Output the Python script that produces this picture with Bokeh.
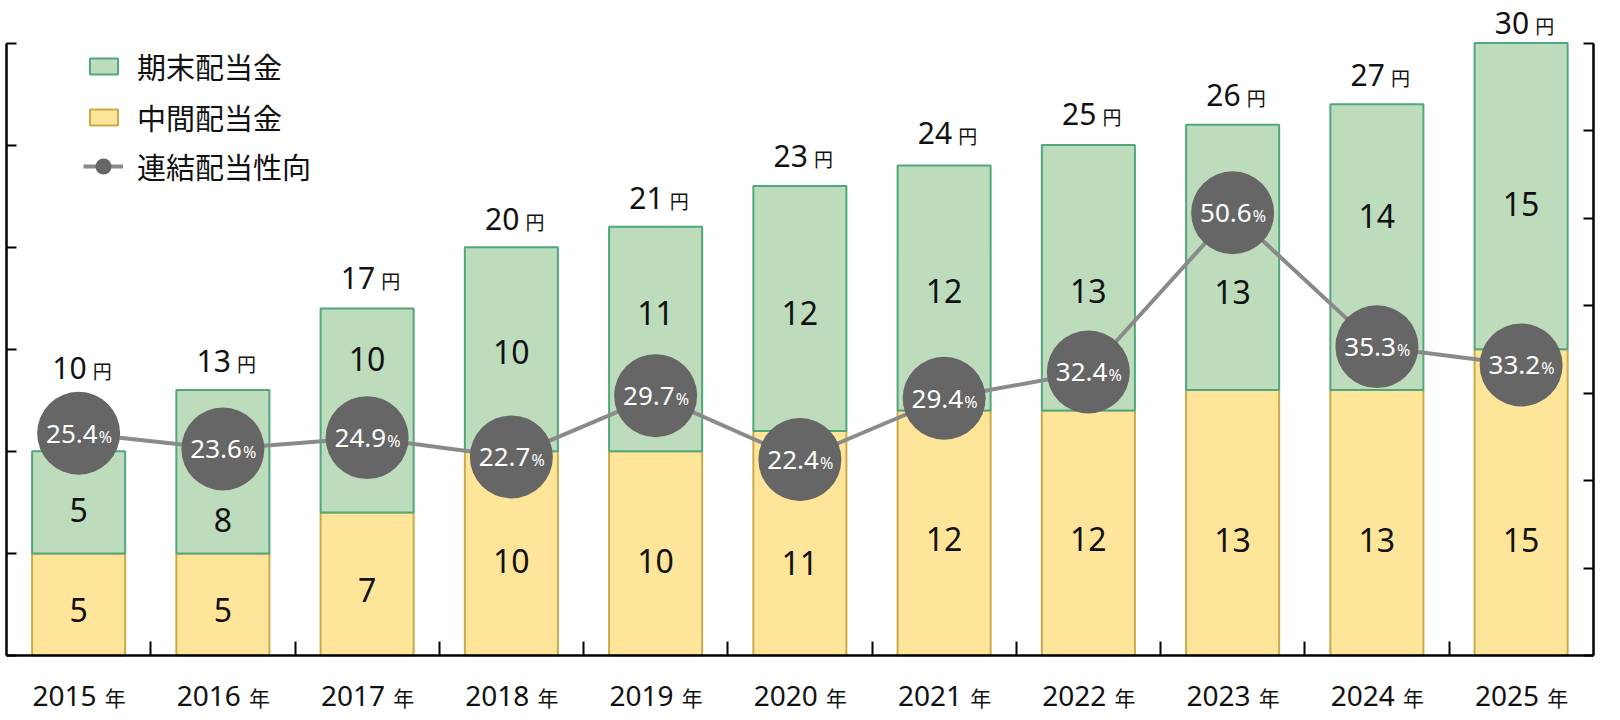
from bokeh.plotting import figure
from bokeh.models import (Range1d, LinearAxis, FixedTicker, ColumnDataSource,
                          LabelSet, Legend, LegendItem)
from bokeh.core.properties import value
from bokeh.embed import file_html
from bokeh.resources import INLINE

# ---------------- data ----------------
years = ["2015", "2016", "2017", "2018", "2019", "2020", "2021", "2022", "2023", "2024", "2025"]
interim = [5, 5, 7, 10, 10, 11, 12, 12, 13, 13, 15]          # 中間配当金 (円)
year_end = [5, 8, 10, 10, 11, 12, 12, 13, 13, 14, 15]        # 期末配当金 (円)
payout = [25.4, 23.6, 24.9, 22.7, 29.7, 22.4, 29.4, 32.4, 50.6, 35.3, 33.2]  # 連結配当性向 (%)
legend_labels = ["期末配当金", "中間配当金", "連結配当性向"]
yen_unit = "円"
year_unit = "年"
pct_unit = "%"
yen_max = 30
pct_max = 70

# ---------------- layout tweaks (pixels; positive = downwards) ----------------
green_shift = [8, 49, -51, 3, -25, 5, 4, 14, 35, -31, 8]
yellow_shift = [6, 6, 6, 8, 8, 20, 7, 7, 18, 18, 38]
total_lift = [83, 29, 30, 28, 28, 30, 32, 31, 29, 29, 20]

GREEN, GREEN_EDGE = "#bddcbc", "#52a67e"
YELLOW, YELLOW_EDGE = "#ffe599", "#c9ab4c"
DOT, LINE = "#666666", "#8a8a8a"
NUM_FONT = "Noto Sans"
JP_FONT = "Noto Sans CJK JP"

n = len(years)
xs = list(range(n))
totals = [a + b for a, b in zip(interim, year_end)]
k = pct_max / yen_max   # % per yen on the two y scales

BAR_FS, TOT_FS, YEAR_FS, PCT_FS = 32, 30, 28, 26
cap = 0.357  # half cap-height ratio, for centring digits on an alphabetic baseline

src = ColumnDataSource(dict(
    x=xs,
    interim=interim,
    total=totals,
    payout=payout,
    payout_on_yen=[v / k for v in payout],
    zero=[0] * n,
    interim_mid=[v / 2 for v in interim],
    end_mid=[a + b / 2 for a, b in zip(interim, year_end)],
    interim_txt=[str(v) for v in interim],
    end_txt=[str(v) for v in year_end],
    total_txt=[str(v) for v in totals],
    payout_txt=[f"{v:.1f}" for v in payout],
    year_txt=years,
    yen=[yen_unit] * n,
    nen=[year_unit] * n,
    pct=[pct_unit] * n,
    g_off=[-(s + cap * BAR_FS) for s in green_shift],
    y_off=[-(s + cap * BAR_FS) for s in yellow_shift],
    t_off=[l - cap * TOT_FS for l in total_lift],
))

# frame covers the whole drawing; axes are pinned inside it
FRAME_W, FRAME_H = 1608, 716
px_cat = 144.25          # pixels per category
px_yen = 20.418          # pixels per yen
x0 = -0.5 - 6.0 / px_cat
x1 = x0 + FRAME_W / px_cat
y1 = yen_max + 42.5 / px_yen
y0 = y1 - FRAME_H / px_yen

p = figure(x_range=Range1d(x0, x1), y_range=Range1d(y0, y1),
           frame_width=FRAME_W, frame_height=FRAME_H,
           min_border_left=0, min_border_right=0, min_border_top=0, min_border_bottom=0,
           output_backend="svg", toolbar_location=None,
           background_fill_color="white", border_fill_color="white")
p.outline_line_color = None
p.xgrid.visible = False
p.ygrid.visible = False
p.extra_y_ranges = {"ratio": Range1d(y0 * k, y1 * k)}


def style_axis(ax, ticks, tick_len, loc, bounds):
    ax.ticker = FixedTicker(ticks=ticks, minor_ticks=[])
    ax.fixed_location = loc
    ax.bounds = bounds
    ax.major_tick_in = tick_len
    ax.major_tick_out = 0
    ax.minor_tick_line_color = None
    ax.major_label_text_font_size = "0px"
    ax.major_label_text_color = None
    ax.major_label_standoff = 0
    ax.axis_line_color = "black"
    ax.axis_line_width = 2.5
    ax.major_tick_line_color = "black"
    ax.major_tick_line_width = 2


style_axis(p.yaxis[0], list(range(0, yen_max + 1, 5)), 10, -0.5, (0, yen_max))
style_axis(p.xaxis[0], [i + 0.5 for i in range(n - 1)], 14, 0, (-0.5, n - 0.5))
rax = LinearAxis(y_range_name="ratio")
style_axis(rax, list(range(0, pct_max + 1, 10)), 10, n - 0.5, (0, pct_max))
p.add_layout(rax, "right")

# bars
r_yellow = p.vbar(x="x", bottom="zero", top="interim", width=0.645, source=src,
                  fill_color=YELLOW, line_color=YELLOW_EDGE, line_width=2)
r_green = p.vbar(x="x", bottom="interim", top="total", width=0.645, source=src,
                 fill_color=GREEN, line_color=GREEN_EDGE, line_width=2)

# payout ratio line + circles
r_line = p.line(x="x", y="payout", source=src, y_range_name="ratio",
                line_color=LINE, line_width=4)
r_dot = p.scatter(x="x", y="payout", source=src, y_range_name="ratio",
                  size=83, fill_color=DOT, line_color=None)


def labels(**kw):
    base = dict(source=src, text_color="#111111")
    base.update(kw)
    p.add_layout(LabelSet(**base))


# segment values
labels(x="x", y="interim_mid", text="interim_txt", y_offset="y_off",
       text_align="center", text_baseline="alphabetic",
       text_font=value(NUM_FONT), text_font_size=value(f"{BAR_FS}px"))
labels(x="x", y="end_mid", text="end_txt", y_offset="g_off",
       text_align="center", text_baseline="alphabetic",
       text_font=value(NUM_FONT), text_font_size=value(f"{BAR_FS}px"))

# totals
labels(x="x", y="total", text="total_txt", x_offset=8, y_offset="t_off",
       text_align="right", text_baseline="alphabetic",
       text_font=value(NUM_FONT), text_font_size=value(f"{TOT_FS}px"))
labels(x="x", y="total", text="yen", x_offset=14, y_offset="t_off",
       text_align="left", text_baseline="alphabetic",
       text_font=value(JP_FONT), text_font_size=value("19px"))

# years (below axis)
yb = -(40 + cap * YEAR_FS)
labels(x="x", y="zero", text="year_txt", x_offset=18, y_offset=yb,
       text_align="right", text_baseline="alphabetic",
       text_font=value(NUM_FONT), text_font_size=value(f"{YEAR_FS}px"))
labels(x="x", y="zero", text="nen", x_offset=26, y_offset=yb,
       text_align="left", text_baseline="alphabetic",
       text_font=value(JP_FONT), text_font_size=value("21px"))

# payout ratio texts in circles
pb = -cap * PCT_FS
labels(x="x", y="payout_on_yen", text="payout_txt", x_offset=19, y_offset=pb,
       text_align="right", text_baseline="alphabetic", text_color="white",
       text_font=value(NUM_FONT), text_font_size=value(f"{PCT_FS}px"))
labels(x="x", y="payout_on_yen", text="pct", x_offset=20, y_offset=pb,
       text_align="left", text_baseline="alphabetic", text_color="white",
       text_font=value(NUM_FONT), text_font_size=value("16px"))

# legends (positions relative to frame bottom-left)
common = dict(orientation="vertical", padding=0, margin=0,
              border_line_color=None, background_fill_alpha=0,
              label_text_font=JP_FONT, label_text_font_size="29px", label_text_color="#111111")
leg1 = Legend(items=[LegendItem(label=legend_labels[0], renderers=[r_green]),
                     LegendItem(label=legend_labels[1], renderers=[r_yellow])],
              location=(86, FRAME_H - 138), glyph_width=35, glyph_height=20,
              label_height=40, spacing=9, label_standoff=16, **common)
leg2 = Legend(items=[LegendItem(label=legend_labels[2], renderers=[r_line, r_dot])],
              location=(83, FRAME_H - 187), glyph_width=40, glyph_height=40,
              label_height=40, spacing=0, label_standoff=14, **common)
p.add_layout(leg1)
p.add_layout(leg2)

open("out.html", "w").write(file_html(p, INLINE))
